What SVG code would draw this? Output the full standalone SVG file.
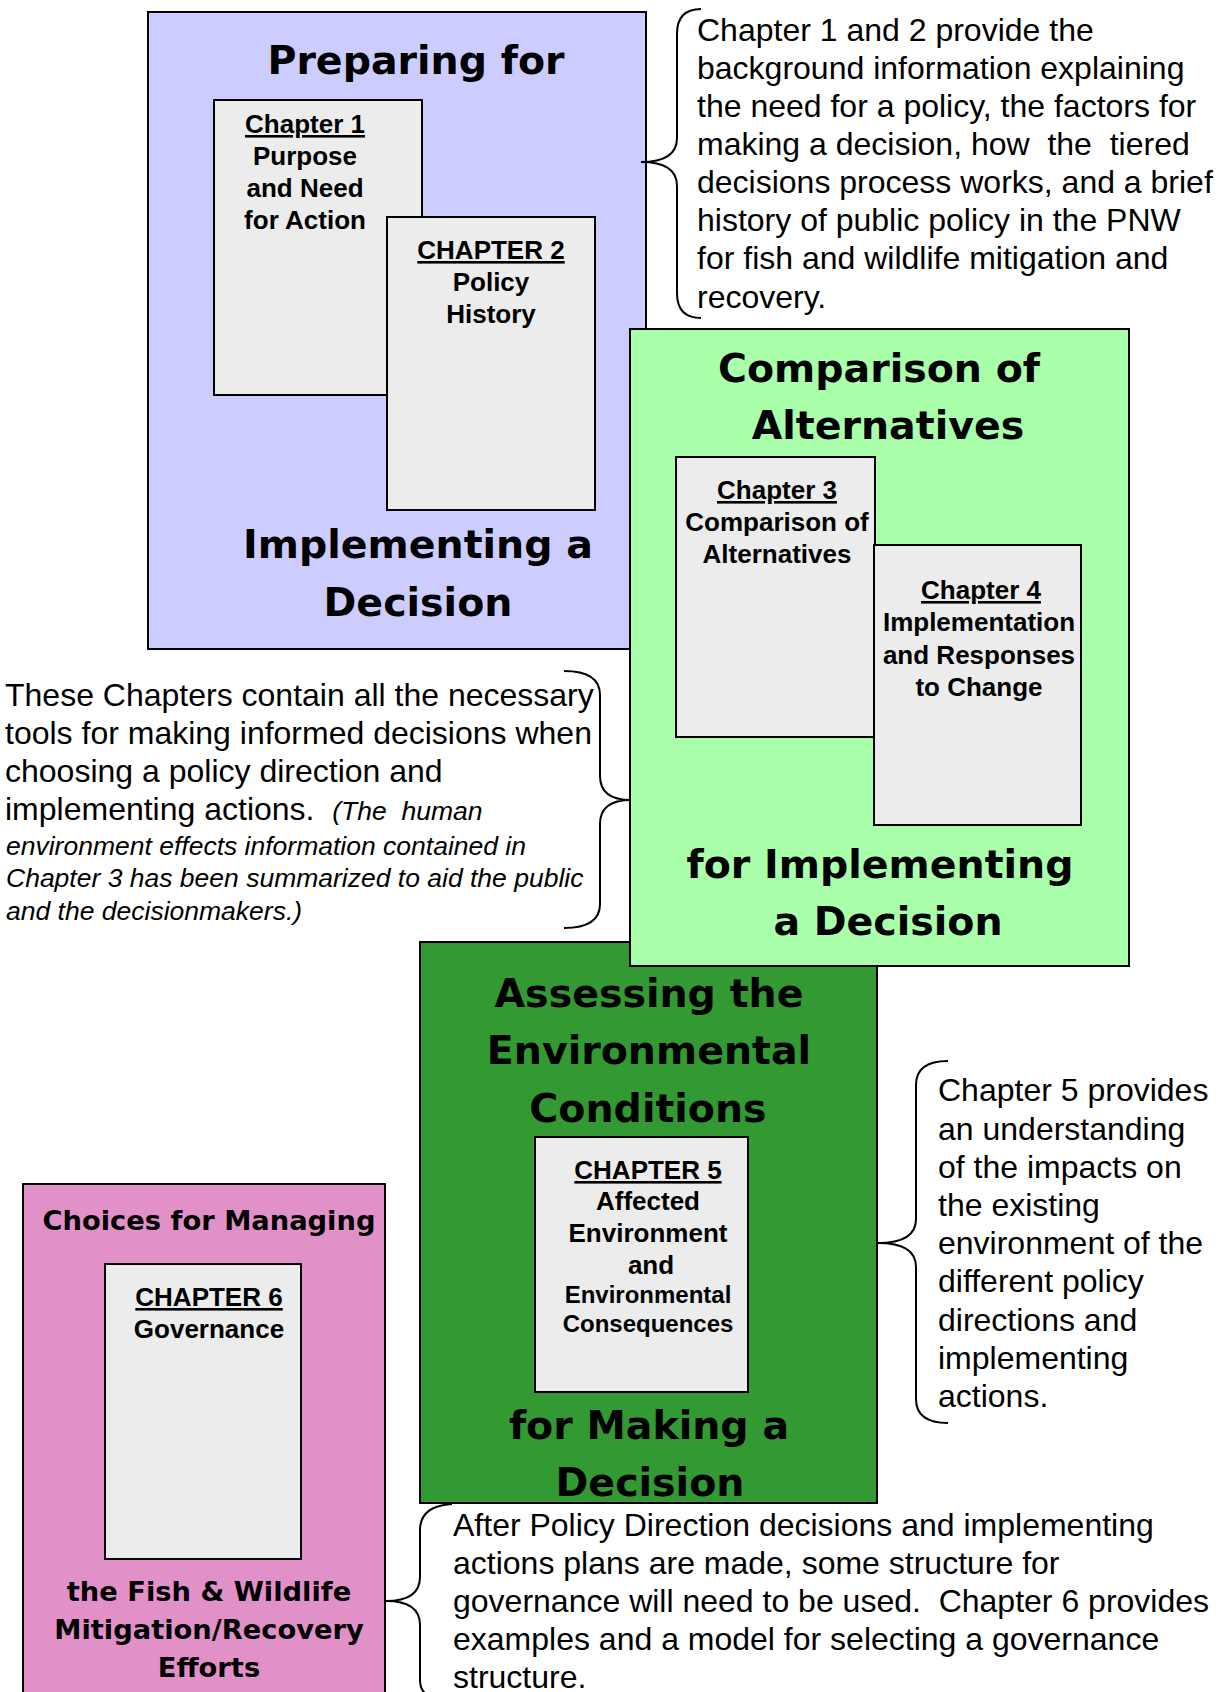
<svg xmlns="http://www.w3.org/2000/svg" width="1225" height="1692" viewBox="0 0 1225 1692">
<style>
.box{stroke:#000;stroke-width:2}
.ch{fill:#ECECEC;stroke:#000;stroke-width:2}
.t{font-family:"DejaVu Sans",Verdana,sans-serif;font-weight:bold;font-size:39.5px;fill:#000;text-anchor:middle}
.tp{font-family:"DejaVu Sans",Verdana,sans-serif;font-weight:bold;font-size:27.3px;fill:#000;text-anchor:middle}
.c{font-family:"Liberation Sans",Arial,sans-serif;font-weight:bold;font-size:26px;fill:#000;text-anchor:middle}
.cs{font-family:"Liberation Sans",Arial,sans-serif;font-weight:bold;font-size:24px;fill:#000;text-anchor:middle}
.u{text-decoration:underline}
.p{font-family:"Liberation Sans",Arial,sans-serif;font-size:32px;fill:#000;white-space:pre}
.pi{font-family:"Liberation Sans",Arial,sans-serif;font-size:26.5px;font-style:italic;fill:#000;white-space:pre}
.br{fill:none;stroke:#000;stroke-width:2}
</style>
<rect width="1225" height="1692" fill="#fff"/>

<g id="preparing">
<rect class="box" x="148" y="12" width="498" height="637" fill="#CCCCFF"/>
<text class="t" x="416" y="74">Preparing for</text>
<text class="t" x="418" y="558">Implementing a</text>
<text class="t" x="418" y="616">Decision</text>
</g>
<g id="chapter1">
<rect class="ch" x="214" y="100" width="208" height="295"/>
<text class="c" x="305" y="133"><tspan class="u">Chapter 1</tspan></text>
<text class="c" x="305" y="165">Purpose</text>
<text class="c" x="305" y="197">and Need</text>
<text class="c" x="305" y="229">for Action</text>
</g>
<g id="chapter2">
<rect class="ch" x="387" y="217" width="208" height="293"/>
<text class="c" x="491" y="259"><tspan class="u">CHAPTER 2</tspan></text>
<text class="c" x="491" y="291">Policy</text>
<text class="c" x="491" y="323">History</text>
</g>

<g id="assessing">
<rect class="box" x="420" y="942" width="457" height="561" fill="#339933"/>
<text class="t" x="649" y="1007">Assessing the</text>
<text class="t" x="649" y="1064">Environmental</text>
<text class="t" x="648" y="1122">Conditions</text>
<text class="t" x="649" y="1439">for Making a</text>
<text class="t" x="650" y="1496">Decision</text>
</g>
<g id="chapter5">
<rect class="ch" x="535" y="1137" width="213" height="255"/>
<text class="c" x="648" y="1179"><tspan class="u">CHAPTER 5</tspan></text>
<text class="c" x="648" y="1210">Affected</text>
<text class="c" x="648" y="1242">Environment</text>
<text class="c" x="651" y="1274">and</text>
<text class="cs" x="648" y="1303">Environmental</text>
<text class="cs" x="648" y="1332">Consequences</text>
</g>

<g id="comparison">
<rect class="box" x="630" y="329" width="499" height="637" fill="#AAFFAA"/>
<text class="t" x="879" y="382">Comparison of</text>
<text class="t" x="888" y="439">Alternatives</text>
<text class="t" x="880" y="878">for Implementing</text>
<text class="t" x="888" y="935">a Decision</text>
</g>
<g id="chapter3">
<rect class="ch" x="676" y="457" width="199" height="280"/>
<text class="c" x="777" y="499"><tspan class="u">Chapter 3</tspan></text>
<text class="c" x="777" y="531">Comparison of</text>
<text class="c" x="777" y="563">Alternatives</text>
</g>
<g id="chapter4">
<rect class="ch" x="874" y="545" width="207" height="280"/>
<text class="c" x="981" y="599"><tspan class="u">Chapter 4</tspan></text>
<text class="c" x="979" y="631">Implementation</text>
<text class="c" x="979" y="664">and Responses</text>
<text class="c" x="979" y="696">to Change</text>
</g>

<g id="choices">
<rect class="box" x="23" y="1184" width="362" height="520" fill="#E291C8"/>
<text class="tp" x="209" y="1230">Choices for Managing</text>
<text class="tp" x="209" y="1601">the Fish &amp; Wildlife</text>
<text class="tp" x="209" y="1639">Mitigation/Recovery</text>
<text class="tp" x="209" y="1677">Efforts</text>
</g>
<g id="chapter6">
<rect class="ch" x="105" y="1264" width="196" height="295"/>
<text class="c" x="209" y="1306"><tspan class="u">CHAPTER 6</tspan></text>
<text class="c" x="209" y="1338">Governance</text>
</g>

<g id="connectors">
<path class="br" d="M701,9 Q677,9 677,34 L677,138 Q677,162 641,162 Q677,162 677,186 L677,293 Q677,318 701,318"/>
<path class="br" d="M564,671 Q600,671 600,695 L600,776 Q600,800 631,800 Q600,800 600,824 L600,904 Q600,928 564,928"/>
<path class="br" d="M948,1061 Q916,1061 916,1085 L916,1219 Q916,1243 878,1243 Q916,1243 916,1267 L916,1399 Q916,1423 948,1423"/>
<path class="br" d="M452,1504 Q420,1506 420,1530 L420,1577 Q420,1601 386,1601 Q420,1601 420,1625 L420,1680 Q420,1700 448,1700"/>
</g>

<g id="notes">
<text class="p" x="697" y="41">Chapter 1 and 2 provide the</text>
<text class="p" x="697" y="79">background information explaining</text>
<text class="p" x="697" y="117">the need for a policy, the factors for</text>
<text class="p" x="697" y="155">making a decision, how  the  tiered</text>
<text class="p" x="697" y="193">decisions process works, and a brief</text>
<text class="p" x="697" y="231">history of public policy in the PNW</text>
<text class="p" x="697" y="269">for fish and wildlife mitigation and</text>
<text class="p" x="697" y="308">recovery.</text>

<text class="p" x="5" y="706">These Chapters contain all the necessary</text>
<text class="p" x="5" y="744">tools for making informed decisions when</text>
<text class="p" x="5" y="782">choosing a policy direction and</text>
<text class="p" x="5" y="820">implementing actions.  <tspan class="pi">(The  human</tspan></text>
<text class="pi" x="6" y="855">environment effects information contained in</text>
<text class="pi" x="6" y="887">Chapter 3 has been summarized to aid the public</text>
<text class="pi" x="6" y="920">and the decisionmakers.)</text>

<text class="p" x="938" y="1101">Chapter 5 provides</text>
<text class="p" x="938" y="1140">an understanding</text>
<text class="p" x="938" y="1178">of the impacts on</text>
<text class="p" x="938" y="1216">the existing</text>
<text class="p" x="938" y="1254">environment of the</text>
<text class="p" x="938" y="1292">different policy</text>
<text class="p" x="938" y="1331">directions and</text>
<text class="p" x="938" y="1369">implementing</text>
<text class="p" x="938" y="1407">actions.</text>

<text class="p" x="453" y="1536">After Policy Direction decisions and implementing</text>
<text class="p" x="453" y="1574">actions plans are made, some structure for</text>
<text class="p" x="453" y="1612">governance will need to be used.  Chapter 6 provides</text>
<text class="p" x="453" y="1650">examples and a model for selecting a governance</text>
<text class="p" x="453" y="1688">structure.</text>
</g>
</svg>
